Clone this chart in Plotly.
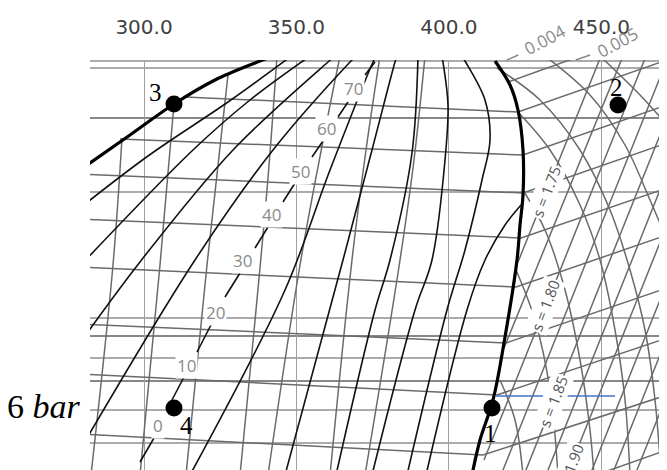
import plotly.graph_objects as go

# ---------------- data (h in kJ/kg, p in bar) ----------------
h_ticks = [300, 350, 400, 450]
h_tick_labels = ["300.0", "350.0", "400.0", "450.0"]

# saturation dome
liq_h = [279.01, 295.41, 309.84, 323.29, 338.05, 342.97]
liq_p = [15.52, 16.92, 18.16, 19.12, 19.88, 20.12]
vap_h = [415.13, 420.05, 422.67, 424.31, 424.31, 423.33, 422.34, 418.41, 414.47, 410.21, 407.58]
vap_p = [19.88, 18.92, 17.92, 16.32, 14.52, 13.32, 11.92, 8.84, 6.32, 4.72, 3.32]

# black curves inside the dome
black_h = [
    [279.01, 301.31, 327.55, 347.89],
    [279.01, 316.07, 334.77, 354.45],
    [279.01, 298.69, 329.19, 360.35, 362.65],
    [279.01, 316.73, 342.31, 367.57, 369.54],
    [315.09, 346.25, 361.01, 375.11, 376.10],
    [346.25, 365.27, 374.78, 382.33, 382.98],
    [362.98, 375.77, 380.69, 387.90, 389.87],
    [374.78, 388.89, 394.46, 398.73, 399.71, 398.07, 397.74],
    [386.26, 399.38, 405.29, 410.86, 413.49, 411.85, 405.29, 404.30],
    [392.50, 405.94, 411.85, 418.41, 423.66],
]
black_p = [
    [14.00, 16.08, 18.24, 20.04],
    [11.68, 16.32, 18.32, 20.08],
    [8.60, 11.84, 16.32, 19.84, 20.08],
    [4.32, 11.92, 16.32, 19.84, 20.08],
    [3.32, 10.72, 15.52, 19.84, 20.08],
    [3.32, 11.92, 16.32, 19.84, 20.08],
    [3.32, 9.92, 11.92, 16.20, 20.08],
    [3.32, 9.92, 11.92, 15.92, 18.12, 19.84, 20.08],
    [3.32, 9.92, 12.32, 15.12, 16.72, 18.32, 19.88, 20.08],
    [3.32, 9.92, 11.92, 13.32, 14.12],
]

# grey near-vertical curves
grey_v_h = [
    [292.78, 289.83, 282.62],
    [309.84, 305.25, 298.69],
    [327.55, 320.66, 313.78],
    [343.62, 340.34, 331.49],
    [364.29, 358.71, 351.17, 340.67],
    [377.41, 372.82, 368.22, 361.01],
    [392.17, 388.56, 383.97, 372.49],
]
grey_v_p = [
    [16.80, 11.72, 3.32],
    [18.16, 11.72, 3.32],
    [19.32, 11.72, 3.32],
    [20.08, 14.72, 3.32],
    [20.08, 16.68, 11.72, 3.32],
    [20.08, 16.32, 11.92, 3.32],
    [20.08, 15.92, 11.92, 3.32],
]

# grey isochores (gently tilted, bending up in the vapour region)
iso_v_h = [
    [313.45, 422.67, 471.54],
    [292.13, 424.31, 471.54],
    [279.01, 424.31, 471.54],
    [279.01, 423.66, 471.54],
    [279.01, 422.02, 471.54],
    [279.01, 418.74, 471.54],
    [279.01, 415.78, 471.54],
    [279.01, 411.19, 471.54],
    [448.26, 471.54],
    [419.39, 441.37],
]
iso_v_p = [
    [18.44, 17.84, 19.92],
    [16.76, 16.12, 18.12],
    [15.36, 14.60, 16.60],
    [13.56, 12.80, 14.80],
    [11.64, 10.84, 12.92],
    [9.36, 8.60, 10.80],
    [7.36, 6.52, 8.80],
    [4.96, 4.12, 6.52],
    [3.32, 4.32],
    [19.04, 20.00],
]

# grey isotherms in the vapour region
iso_t_h = [
    [415.78, 429.89, 443.01, 452.85, 459.41, 464.33, 467.61, 469.58],
    [431.53, 446.29, 457.77, 465.97, 471.54],
    [449.57, 462.69, 471.54],
    [422.67, 433.17, 443.01, 449.57, 454.49, 457.77, 459.41],
    [424.31, 431.53, 438.09, 443.01, 446.29, 447.60],
    [422.02, 428.25, 433.17, 435.79],
    [416.77, 421.69, 424.31],
]
iso_t_p = [
    [19.60, 18.32, 16.32, 13.92, 11.52, 9.12, 6.32, 3.32],
    [20.08, 18.52, 16.52, 14.32, 12.72],
    [20.08, 18.52, 17.32],
    [17.84, 16.32, 14.12, 11.92, 9.12, 6.32, 3.32],
    [14.72, 13.12, 10.72, 7.92, 5.12, 3.32],
    [11.52, 9.52, 6.72, 3.32],
    [7.12, 5.52, 3.32],
]

# grey isentropes
iso_s_h = [
    [422.67, 449.90], [418.08, 457.11], [411.52, 464.66], [417.10, 471.54],
    [424.64, 471.54], [431.86, 471.54], [438.74, 471.54], [446.29, 471.54],
    [453.50, 471.54], [461.05, 471.54], [468.59, 471.54],
]
iso_s_p = [
    [11.84, 20.08], [8.40, 20.08], [3.92, 20.08], [3.32, 19.92],
    [3.32, 17.62], [3.32, 15.42], [3.32, 13.32], [3.32, 11.02],
    [3.32, 8.82], [3.32, 6.52], [3.32, 4.24],
]
s_labels = ["s = 1.75", "s = 1.80", "s = 1.85", "s = 1.90"]
s_label_h = [431.86, 431.53, 434.15, 439.40]
s_label_p = [14.64, 10.08, 6.24, 3.52]

# specific-volume labels above the frame (y as paper fraction)
v_labels = ["0.004", "0.005"]
v_label_h = [431.53, 455.14]
v_label_py = [1.049, 1.042]
v_dash_h = [[418.97, 422.77], [441.60, 446.29]]
v_dash_py = [[1.0, 1.0122], [1.0, 1.0122]]

# liquid temperature labels along a diagonal
t_labels = ["0", "10", "20", "30", "40", "50", "60", "70"]
t_label_h = [304.59, 314.10, 323.29, 332.47, 341.98, 351.17, 360.02, 368.55]
t_label_p = [5.32, 7.72, 9.84, 11.92, 13.76, 15.48, 17.20, 18.80]
t_dash_h = [298.69, 303.28, None, 309.18, 313.12, None, 317.38, 322.30, None,
            326.57, 331.49, None, 336.41, 340.67, None, 345.59, 349.53, None,
            355.10, 358.71, None, 363.63, 366.91, None, 372.49, 375.77]
t_dash_p = [3.84, 4.80, None, 6.32, 7.24, None, 8.24, 9.40, None,
            10.44, 11.40, None, 12.40, 13.24, None, 14.24, 15.00, None,
            16.04, 16.68, None, 17.64, 18.24, None, 19.32, 19.84]

# horizontal pressure lines
p_lines_grey = [19.88, 19.60, 14.64, 9.60, 8.00, 5.92, 4.60]
p_lines_black = [17.60, 8.88, 7.08]

# cycle states
state_names = ["1", "2", "3", "4"]
state_h = [414.14, 455.47, 309.84, 309.84]
state_p = [6.00, 18.12, 18.16, 6.00]
state_label_h = [413.49, 454.82, 303.61, 314.10]
state_label_p = [5.00, 18.84, 18.64, 5.32]

blue_h = [415.13, 454.49]
blue_p = [6.48, 6.48]

low_pressure_label = "6 <i>bar</i>"
low_pressure_value = 6.08

# ---------------- figure ----------------
fig = go.Figure()

def add_lines(hs, ps, color, width, shape="spline"):
    for hh, pp in zip(hs, ps):
        fig.add_trace(go.Scatter(x=hh, y=pp, mode="lines",
                                 line=dict(color=color, width=width, shape=shape),
                                 hoverinfo="skip"))

add_lines(iso_v_h, iso_v_p, "#6a6a6a", 1.5, "linear")
add_lines(iso_t_h, iso_t_p, "#6a6a6a", 1.5)
add_lines(iso_s_h, iso_s_p, "#6a6a6a", 1.5, "linear")
add_lines(grey_v_h, grey_v_p, "#6a6a6a", 1.5)
add_lines(black_h, black_p, "#111111", 1.6)
fig.add_trace(go.Scatter(x=t_dash_h, y=t_dash_p, mode="lines",
                         line=dict(color="#111111", width=1.6), hoverinfo="skip"))
add_lines([liq_h], [liq_p], "#000000", 3.2)
add_lines([vap_h], [vap_p], "#000000", 3.2)
fig.add_trace(go.Scatter(x=blue_h, y=blue_p, mode="lines",
                         line=dict(color="#4472C4", width=1.5), hoverinfo="skip"))
fig.add_trace(go.Scatter(x=state_h, y=state_p, mode="markers",
                         marker=dict(color="black", size=17), hoverinfo="skip"))

for p in p_lines_grey:
    fig.add_shape(type="line", xref="paper", x0=0, x1=1, yref="y", y0=p, y1=p,
                  line=dict(color="#8f8f8f", width=1.6), layer="below")
for p in p_lines_black:
    fig.add_shape(type="line", xref="paper", x0=0, x1=1, yref="y", y0=p, y1=p,
                  line=dict(color="#111111", width=1.1), layer="below")
for hh, py in zip(v_dash_h, v_dash_py):
    fig.add_shape(type="line", xref="x", yref="paper", x0=hh[0], x1=hh[1], y0=py[0], y1=py[1],
                  line=dict(color="#888888", width=1.5))

for t, hh, pp in zip(t_labels, t_label_h, t_label_p):
    fig.add_annotation(x=hh, y=pp, text=t, showarrow=False, bgcolor="white",
                       font=dict(family="Open Sans", size=17, color="#8a8a8a"))
for t, hh, pp in zip(s_labels, s_label_h, s_label_p):
    fig.add_annotation(x=hh, y=pp, text=t, showarrow=False, bgcolor="white", textangle=-69,
                       font=dict(family="Open Sans", size=15, color="#555555"))
for t, hh, py in zip(v_labels, v_label_h, v_label_py):
    fig.add_annotation(x=hh, yref="paper", y=py, text=t, showarrow=False, textangle=-28,
                       xanchor="center", yanchor="middle",
                       font=dict(family="Open Sans", size=17, color="#8a8a8a"))
for t, hh, pp in zip(state_names, state_label_h, state_label_p):
    fig.add_annotation(x=hh, y=pp, text=t, showarrow=False,
                       font=dict(family="Liberation Serif", size=25, color="black"))
fig.add_annotation(xref="paper", x=-0.012, xanchor="right", y=low_pressure_value,
                   text=low_pressure_label, showarrow=False,
                   font=dict(family="Liberation Serif", size=34, color="black"))

# the page body adds an 8px offset, so the plot area is placed 8px up/left in the figure
fig.update_layout(
    width=667, height=470,
    margin=dict(l=82, r=8, t=52, b=8, autoexpand=False),
    paper_bgcolor="white", plot_bgcolor="white",
    showlegend=False,
    xaxis=dict(range=[282.29, 471.54], side="top", tickvals=h_ticks, ticktext=h_tick_labels,
               showgrid=True, gridcolor="#a0a0a0", gridwidth=1, zeroline=False,
               showline=False, ticks="", ticklabelstandoff=21, automargin=False,
               tickfont=dict(family="DejaVu Sans", size=20, color="#404040")),
    yaxis=dict(range=[3.52, 19.92], showgrid=False, zeroline=False, showline=False,
               showticklabels=False, ticks="", automargin=False),
)

fig.write_html("out.html")
